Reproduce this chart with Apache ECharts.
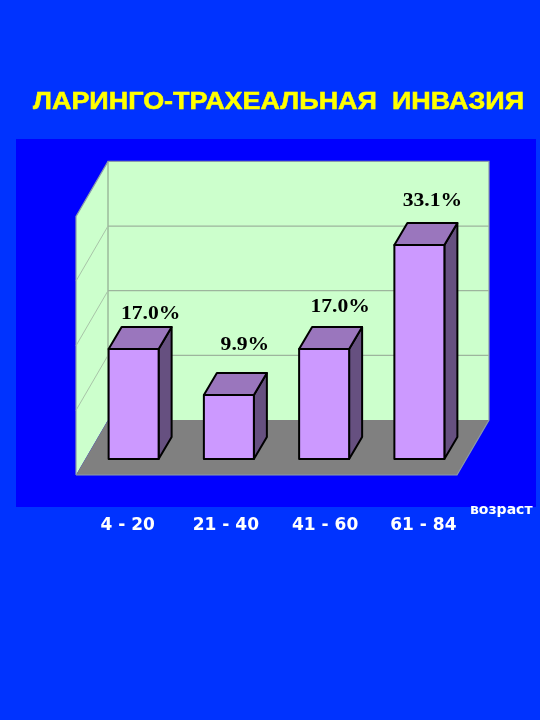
<!DOCTYPE html>
<html><head><meta charset="utf-8">
<style>html,body{margin:0;padding:0;background:#0033ff}#c{width:540px;height:720px}</style>
<script src="https://cdn.jsdelivr.net/npm/echarts@6/dist/echarts.min.js"></script>
</head><body><div id="c"></div>
<script>
const categories = ['4 - 20','21 - 40','41 - 60','61 - 84'];
const values = [17.0, 9.9, 17.0, 33.1];
const yTicks = [0,10,20,30,40];
const titleText = 'ЛАРИНГО-ТРАХЕАЛЬНАЯ  ИНВАЗИЯ';
const xName = 'возраст';
const labelShift = [[17,-35],[16,-50],[16,-42],[13,-44]];
const catShift = [-6,-3,1,4];
const BACK=[22,-39], FRONT=[-10,16], DEPTH=[13,-22], BAR_W=50;

const chart = echarts.init(document.getElementById('c'),null,{renderer:'canvas'});
chart.setOption({
  animation:false,
  backgroundColor:'#0033ff',
  graphic:[
    {type:'rect',z:-10,shape:{x:16,y:139,width:520,height:368},style:{fill:'#0000ff'}},
    {type:'text',z:5,x:33,y:102.5,scaleX:1.172,style:{text:titleText,x:0,y:0,align:'left',verticalAlign:'middle',
      font:'bold 23px "Liberation Sans"',fill:'#ffff00',stroke:'#ffff00',lineWidth:0.5,
      shadowColor:'#333333',shadowOffsetX:1.5,shadowOffsetY:1.5,shadowBlur:1}}
  ],
  title:[
    {text:xName,left:470,top:503,padding:0,textStyle:{fontFamily:'DejaVu Sans',fontWeight:'bold',fontSize:14,color:'#ffffff'}}
  ],
  grid:{left:86,right:73,top:200.4,height:258.6,containLabel:false},
  xAxis:{type:'category',data:categories,axisLine:{show:false},axisTick:{show:false},
    axisLabel:{margin:58,interval:0,
      formatter:(v,i)=>'{l'+i+'|'+v+'}',
      rich:Object.fromEntries(catShift.map((s,i)=>['l'+i,{fontFamily:'DejaVu Sans',fontWeight:'bold',fontSize:17,color:'#ffffff',
        padding:s<0?[0,-2*s,0,0]:[0,0,0,2*s]}]))}},
  yAxis:{type:'value',min:0,max:40,interval:10,show:false,splitLine:{show:false}},
  series:[
    {type:'custom',coordinateSystem:'cartesian2d',clip:false,silent:true,z:1,
      data:yTicks.map(t=>[0,t]),
      renderItem:(params,api)=>{
        const g=[];
        const y=api.coord([0,api.value(1)])[1];
        const x0=86, x1=467;
        const yTop=api.coord([0,40])[1], yBot=api.coord([0,0])[1];
        if(params.dataIndex===0){
          g.push({type:'polygon',shape:{points:[[x0+BACK[0],yTop+BACK[1]],[x1+BACK[0],yTop+BACK[1]],[x1+BACK[0],yBot+BACK[1]],[x0+BACK[0],yBot+BACK[1]]]},style:{fill:'#ccffcc'}});
          g.push({type:'polygon',shape:{points:[[x0+FRONT[0],yTop+FRONT[1]],[x0+BACK[0],yTop+BACK[1]],[x0+BACK[0],yBot+BACK[1]],[x0+FRONT[0],yBot+FRONT[1]]]},style:{fill:'#ccffcc'}});
          g.push({type:'polygon',shape:{points:[[x0+FRONT[0],yBot+FRONT[1]],[x0+BACK[0],yBot+BACK[1]],[x1+BACK[0],yBot+BACK[1]],[x1+FRONT[0],yBot+FRONT[1]]]},style:{fill:'#808080'}});
          g.push({type:'line',shape:{x1:x0+BACK[0],y1:yTop+BACK[1],x2:x0+BACK[0],y2:yBot+BACK[1]},style:{stroke:'#8fa88f',lineWidth:1.2}});
          g.push({type:'polyline',shape:{points:[[x0+FRONT[0],yBot+FRONT[1]],[x0+FRONT[0],yTop+FRONT[1]],[x0+BACK[0],yTop+BACK[1]],[x1+BACK[0],yTop+BACK[1]],[x1+BACK[0],yBot+BACK[1]],[x1+FRONT[0],yBot+FRONT[1]],[x0+FRONT[0],yBot+FRONT[1]]]},style:{stroke:'#8a9aaa',lineWidth:1.2,fill:null}});
        } else if(params.dataIndex<yTicks.length-1){
          g.push({type:'line',shape:{x1:x0+FRONT[0],y1:y+FRONT[1],x2:x0+BACK[0],y2:y+BACK[1]},style:{stroke:'#a8c4a8',lineWidth:1}});
          g.push({type:'line',shape:{x1:x0+BACK[0],y1:y+BACK[1],x2:x1+BACK[0],y2:y+BACK[1]},style:{stroke:'#9db59d',lineWidth:1.2}});
        }
        return {type:'group',children:g};
      }},
    {type:'custom',coordinateSystem:'cartesian2d',clip:false,silent:true,z:2,
      data:values.map((v,i)=>[i,v]),
      renderItem:(params,api)=>{
        const i=params.dataIndex,v=api.value(1);
        const base=api.coord([i,0]),top=api.coord([i,v]);
        const xl=base[0]-BAR_W/2,xr=xl+BAR_W,yb=base[1],yt=top[1],dx=DEPTH[0],dy=DEPTH[1];
        const line={stroke:'#000000',lineWidth:2,lineJoin:'round'};
        return {type:'group',children:[
          {type:'polygon',shape:{points:[[xr,yt],[xr+dx,yt+dy],[xr+dx,yb+dy],[xr,yb]]},style:{fill:'#665080',...line}},
          {type:'polygon',shape:{points:[[xl,yt],[xl+dx,yt+dy],[xr+dx,yt+dy],[xr,yt]]},style:{fill:'#9a76bd',...line}},
          {type:'rect',shape:{x:xl,y:yt,width:BAR_W,height:yb-yt},style:{fill:'#cc99ff',...line}},
          {type:'text',x:base[0]+labelShift[i][0],y:yt+labelShift[i][1],scaleX:1.2,
            style:{text:v.toFixed(1)+'%',x:0,y:0,align:'center',verticalAlign:'middle',font:'bold 18px "Liberation Serif"',fill:'#000000'}}
        ]};
      }}
  ]
});
</script></body></html>
